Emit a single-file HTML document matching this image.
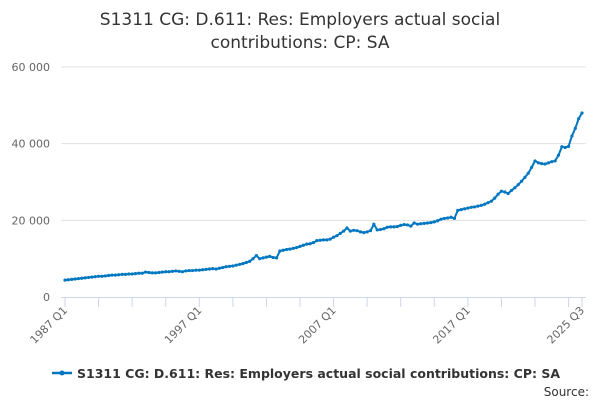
<!DOCTYPE html>
<html><head><meta charset="utf-8"><style>
body{margin:0;background:#fff;}
svg{display:block;font-family:"DejaVu Sans","Liberation Sans",sans-serif;}
</style></head><body>
<svg id="chart" width="600" height="400">
<text x="300" y="25" text-anchor="middle" font-size="17" fill="#333">S1311 CG: D.611: Res: Employers actual social</text>
<text x="300" y="48" text-anchor="middle" font-size="17" fill="#333">contributions: CP: SA</text>
<g id="grid"></g>
<g id="yaxis"></g>
<g id="xaxis"></g>
<g id="series"></g>
<g>
<line x1="52" y1="373" x2="72" y2="373" stroke="#0077c0" stroke-width="2.5"/>
<circle cx="62" cy="373" r="2.5" fill="#0077c0"/>
<text x="77" y="378" font-size="12.5" font-weight="bold" fill="#333">S1311 CG: D.611: Res: Employers actual social contributions: CP: SA</text>
</g>
<text x="589" y="396" text-anchor="end" font-size="12" fill="#333">Source:</text>
</svg>
<script>
const yTicks=[0,20000,40000,60000];
const yTickLabels=["0","20 000","40 000","60 000"];
const xLabels=["1987 Q1","1997 Q1","2007 Q1","2017 Q1","2025 Q3"];
const xLabelIdx=[0,40,80,120,154];
const values=[
4400,4500,4600,4700, 4800,4900,5000,5100, 5200,5300,5400,5400, 5500,5600,5700,5700,
5800,5900,5900,6000, 6000,6100,6200,6200, 6500,6400,6300,6300, 6400,6500,6600,6600,
6700,6800,6700,6600, 6800,6900,6900,7000, 7000,7100,7200,7300, 7400,7300,7500,7700,
7900,8000,8100,8300, 8500,8700,9000,9300, 10000,10800,10000,10200, 10400,10600,10300,10200,
12000,12200,12400,12500, 12700,12900,13200,13500, 13800,13900,14200,14700, 14800,14900,14900,15100,
15600,16000,16600,17200, 18000,17200,17400,17300, 17000,16800,17000,17300, 19000,17500,17600,17800,
18200,18300,18300,18400, 18700,18900,18800,18500, 19300,19000,19100,19200, 19300,19400,19600,19900,
20300,20500,20600,20800, 20500,22600,22800,23000, 23200,23400,23500,23700, 23900,24200,24600,25000,
25800,26800,27600,27400, 27000,27800,28500,29300, 30200,31200,32300,33800, 35500,35000,34800,34700,
35000,35300,35500,37000, 39200,39000,39300,42000, 44000,46500,48000];
const NS="http://www.w3.org/2000/svg";
const x0=65,x1=582,y0=297,yTop=67;
const xs=i=>x0+(x1-x0)*i/(values.length-1);
const ys=v=>y0-(y0-yTop)*v/60000;
function mk(t,a,p){const e=document.createElementNS(NS,t);for(const k in a)e.setAttribute(k,a[k]);p.appendChild(e);return e;}
const grid=document.getElementById('grid'),ya=document.getElementById('yaxis'),xa=document.getElementById('xaxis'),se=document.getElementById('series');
yTicks.forEach((v,i)=>{
 if(v>0){const l=mk('line',{x1:x0-4,x2:x1+4,y1:ys(v),y2:ys(v),stroke:'#e0e0e0','stroke-width':1},grid);
 
 }
 const t=mk('text',{x:50,y:ys(v)+4,'text-anchor':'end','font-size':11,fill:'#666'},ya);t.textContent=yTickLabels[i];
 
 
});
mk('line',{x1:x0-4,x2:x1+4,y1:y0+0.5,y2:y0+0.5,stroke:'#ccd6eb','stroke-width':1},xa);
for(let i=0;i<values.length;i+=10){mk('line',{x1:xs(i),x2:xs(i),y1:y0,y2:y0+10,stroke:'#ccd6eb'},xa);}
mk('line',{x1:x1,x2:x1,y1:y0,y2:y0+10,stroke:'#ccd6eb'},xa);
xLabelIdx.forEach((idx,i)=>{
 const x=xs(idx)+3,y=y0+14;
 const t=mk('text',{x:x,y:y,'text-anchor':'end','font-size':11,fill:'#666',transform:`rotate(-45 ${x} ${y})`},xa);
 t.textContent=xLabels[i];
 
 
});
const d=values.map((v,i)=>(i?'L':'M')+xs(i).toFixed(1)+' '+ys(v).toFixed(1)).join(' ');
const p=mk('path',{d:d,fill:'none',stroke:'#0077c0','stroke-width':2,'stroke-linejoin':'round'},se);


values.forEach((v,i)=>{const c=mk('circle',{cx:xs(i),cy:ys(v),r:1.6,fill:'#0077c0'},se);
 
 });
</script>
</body></html>
